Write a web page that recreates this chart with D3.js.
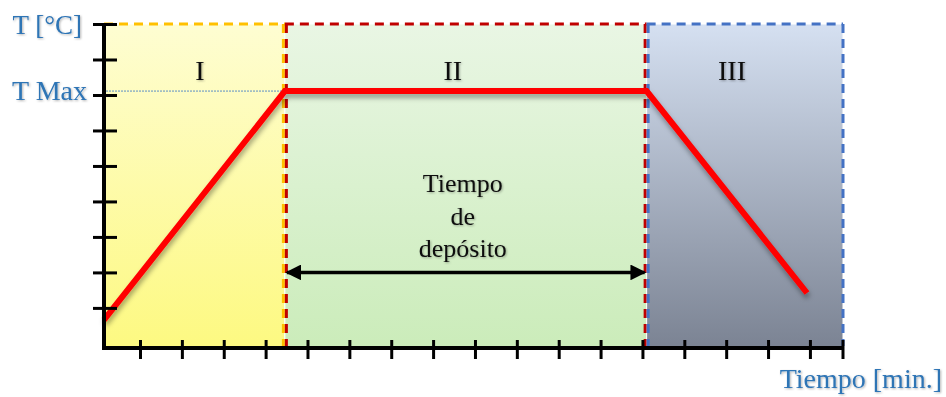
<!DOCTYPE html>
<html>
<head>
<meta charset="utf-8">
<script src="https://cdn.jsdelivr.net/npm/d3@7"></script>
<style>
  body { margin: 0; background: #fff; }
  text { font-family: "Liberation Serif", "DejaVu Serif", serif; }
</style>
</head>
<body>
<div id="chart"></div>
<script>
const width = 946;
const height = 397;

// phases of the process (time in minutes, arbitrary units)
const phaseNames = ["I", "II", "III"];
const phaseStart = [0.14, 4.46, 13.10];
const phaseEnd = [4.46, 13.10, 17.79];
const phaseLabelAt = [2.43, 8.47, 15.14];
const phaseTop = ["#fefdd2", "#e9f6e4", "#d5e0f1"];
const phaseBottom = ["#fdf981", "#cbecba", "#7b8393"];
const phaseBorder = ["#ffc000", "#c00000", "#4472c4"];

// temperature profile
const profileTime = [0.14, 4.46, 13.10, 16.93];
const profileTemp = [0.66, 7.11, 7.11, 1.42];

const tMax = 7.11;
const xTicks = [1, 2, 3, 4, 5, 6, 7, 8, 9, 10, 11, 12, 13, 14, 15, 16, 17];
const yTicks = [1, 2, 3, 4, 5, 6, 7, 8, 9];
const depositLines = ["Tiempo", "de", "depósito"];
const depositAt = 8.71;
const depositArrowTemp = 2;

const svg = d3.select("#chart").append("svg")
  .attr("width", width)
  .attr("height", height);

const x = d3.scaleLinear().domain([0.14, 17.79]).range([104, 843]);
const y = d3.scaleLinear().domain([-0.13, 9]).range([348, 24]);

const defs = svg.append("defs");

phaseNames.forEach((p, i) => {
  const g = defs.append("linearGradient")
    .attr("id", "grad" + i)
    .attr("x1", 0).attr("y1", 0).attr("x2", 0).attr("y2", 1);
  g.append("stop").attr("offset", "0%").attr("stop-color", phaseTop[i]);
  g.append("stop").attr("offset", "100%").attr("stop-color", phaseBottom[i]);
});

const shadow = defs.append("filter").attr("id", "shadow")
  .attr("x", "-10%").attr("y", "-10%").attr("width", "130%").attr("height", "140%");
shadow.append("feDropShadow")
  .attr("dx", 1).attr("dy", 4).attr("stdDeviation", 2.5)
  .attr("flood-color", "#000").attr("flood-opacity", 0.35);

const textShadow = defs.append("filter").attr("id", "tshadow");
textShadow.append("feDropShadow")
  .attr("dx", 1).attr("dy", 1).attr("stdDeviation", 1)
  .attr("flood-color", "#000").attr("flood-opacity", 0.3);

defs.append("marker")
  .attr("id", "arrow")
  .attr("viewBox", "0 0 10 10")
  .attr("refX", 9).attr("refY", 5)
  .attr("markerWidth", 4.5).attr("markerHeight", 4.5)
  .attr("markerUnits", "strokeWidth")
  .attr("orient", "auto-start-reverse")
  .append("path")
  .attr("d", "M0,0 L10,5 L0,10 z")
  .attr("fill", "#000");

// phase backgrounds
svg.selectAll(".phase")
  .data(phaseNames)
  .enter()
  .append("rect")
  .attr("class", "phase")
  .attr("x", (d, i) => x(phaseStart[i]))
  .attr("y", y(9))
  .attr("width", (d, i) => x(phaseEnd[i]) - x(phaseStart[i]))
  .attr("height", y(-0.13) - y(9))
  .attr("fill", (d, i) => `url(#grad${i})`)
  .attr("stroke", "#fff")
  .attr("stroke-width", 1);

// dashed borders
phaseNames.forEach((p, i) => {
  const x0 = x(phaseStart[i]) + (i === 0 ? 0 : 1.5);
  const x1 = x(phaseEnd[i]) - (i === 2 ? 0 : 1.5);
  const top = y(9);
  const bottom = y(-0.13) - 2;
  const b = svg.append("g")
    .attr("stroke", phaseBorder[i])
    .attr("stroke-width", 3)
    .attr("stroke-dasharray", "9,6")
    .attr("fill", "none");
  b.append("line").attr("x1", x(phaseStart[i])).attr("x2", x(phaseEnd[i]))
    .attr("y1", top).attr("y2", top);
  if (i > 0) b.append("line").attr("x1", x0).attr("x2", x0).attr("y1", top).attr("y2", bottom);
  b.append("line").attr("x1", x1).attr("x2", x1).attr("y1", top).attr("y2", bottom);
});

// T Max guide
svg.append("line")
  .attr("x1", x(0.14) + 2).attr("x2", x(phaseEnd[0]))
  .attr("y1", y(tMax)).attr("y2", y(tMax))
  .attr("stroke", "#5b8fc4")
  .attr("stroke-width", 1)
  .attr("stroke-dasharray", "2,1");

// phase labels
svg.selectAll(".phase-label")
  .data(phaseNames)
  .enter()
  .append("text")
  .attr("class", "phase-label")
  .attr("x", (d, i) => x(phaseLabelAt[i]))
  .attr("y", y(9) + 56)
  .attr("text-anchor", "middle")
  .attr("font-size", 28)
  .attr("fill", "#111")
  .attr("filter", "url(#tshadow)")
  .text(d => d);

// deposit time label
svg.selectAll(".deposit")
  .data(depositLines)
  .enter()
  .append("text")
  .attr("class", "deposit")
  .attr("x", x(depositAt))
  .attr("y", (d, i) => 192 + i * 32.5)
  .attr("text-anchor", "middle")
  .attr("font-size", 26)
  .attr("fill", "#111")
  .attr("filter", "url(#tshadow)")
  .text(d => d);

svg.append("line")
  .attr("x1", x(phaseStart[1]) + 2).attr("x2", x(phaseEnd[1]) - 2)
  .attr("y1", y(depositArrowTemp)).attr("y2", y(depositArrowTemp))
  .attr("stroke", "#000")
  .attr("stroke-width", 3.5)
  .attr("marker-start", "url(#arrow)")
  .attr("marker-end", "url(#arrow)");

// temperature profile
const line = d3.line()
  .x((d, i) => x(profileTime[i]))
  .y(d => y(d));

svg.append("path")
  .datum(profileTemp)
  .attr("d", line)
  .attr("fill", "none")
  .attr("stroke", "#ff0000")
  .attr("stroke-width", 6)
  .attr("stroke-linejoin", "miter")
  .attr("filter", "url(#shadow)");

// axes
const xAxis = svg.append("g")
  .attr("transform", `translate(0, ${y(-0.13)})`)
  .call(d3.axisBottom(x).tickValues(xTicks).tickSize(11).tickSizeOuter(0).tickFormat(""));
xAxis.select(".domain").remove();
xAxis.selectAll(".tick line")
  .attr("y1", -8)
  .attr("y2", 11)
  .attr("stroke", "#000")
  .attr("stroke-width", 3);

const yAxis = svg.append("g")
  .attr("transform", `translate(${x(0.14)}, 0)`)
  .call(d3.axisLeft(y).tickValues(yTicks).tickSizeOuter(0).tickFormat(""));
yAxis.select(".domain").remove();
yAxis.selectAll(".tick line")
  .attr("x1", -11)
  .attr("x2", 13)
  .attr("stroke", "#000")
  .attr("stroke-width", 3);

svg.append("line")
  .attr("x1", x(0.14) - 2).attr("x2", x(17.79))
  .attr("y1", y(-0.13)).attr("y2", y(-0.13))
  .attr("stroke", "#000").attr("stroke-width", 4);
svg.append("line")
  .attr("x1", x(17.79)).attr("x2", x(17.79))
  .attr("y1", y(-0.13) - 8).attr("y2", y(-0.13) + 11)
  .attr("stroke", "#000").attr("stroke-width", 3);
svg.append("line")
  .attr("x1", x(0.14)).attr("x2", x(0.14))
  .attr("y1", y(9)).attr("y2", y(-0.13) + 2)
  .attr("stroke", "#000").attr("stroke-width", 4);

// axis titles
svg.append("text")
  .attr("x", 82).attr("y", 34)
  .attr("text-anchor", "end")
  .attr("font-size", 27)
  .attr("fill", "#2e74b5")
  .attr("filter", "url(#tshadow)")
  .text("T [°C]");

svg.append("text")
  .attr("x", 87).attr("y", 100)
  .attr("text-anchor", "end")
  .attr("font-size", 28)
  .attr("fill", "#2e74b5")
  .attr("filter", "url(#tshadow)")
  .text("T Max");

svg.append("text")
  .attr("x", 942).attr("y", 388)
  .attr("text-anchor", "end")
  .attr("font-size", 28)
  .attr("fill", "#2e74b5")
  .attr("filter", "url(#tshadow)")
  .text("Tiempo [min.]");
</script>
</body>
</html>
